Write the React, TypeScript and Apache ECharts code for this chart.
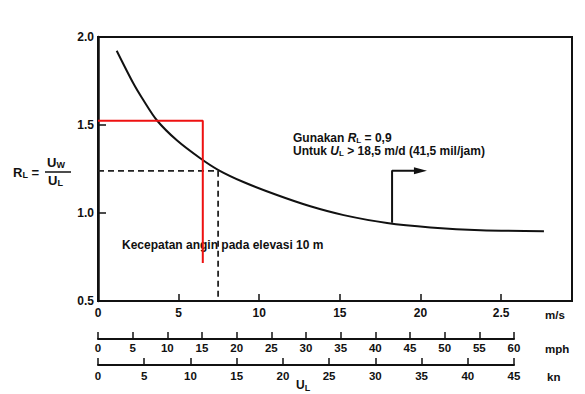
import React, { useEffect, useRef } from "react";
import * as echarts from "echarts";

// Curve R_L = U_W / U_L against wind speed (m/s)
const curveX = [1.16, 2.19, 2.81, 3.65, 4.89, 6.34, 7.47, 9.02, 11.1, 13.17, 15.24, 17.93, 20.62, 23.73, 27.66];
const curveY = [1.922, 1.737, 1.642, 1.527, 1.413, 1.311, 1.244, 1.176, 1.102, 1.038, 0.988, 0.943, 0.918, 0.902, 0.897];

// red guide lines
const redX = [0, 6.5, 6.5];
const redY = [1.524, 1.524, 0.716];

// dashed guide lines
const dashX = [0, 7.45, 7.45];
const dashY = [1.239, 1.239, 0.5];

// arrow from curve
const arrowX = [18.24, 18.24, 20.0];
const arrowY = [0.945, 1.24, 1.24];

// axis ticks
const msTicks = [0, 5, 10, 15, 20, 25];
const msTickLabels = ["0", "5", "10", "15", "20", "2.5"];
const yTicks = [0.5, 1.0, 1.5, 2.0];
const yTickLabels = ["0.5", "1.0", "1.5", "2.0"];
const mphMax = 60;
const knMax = 45;

const FONT = "'Liberation Sans', Arial, Helvetica, sans-serif";

const pairs = (xs: number[], ys: number[]) => xs.map((x, i) => [x, ys[i]]);

export default function App() {
  const ref = useRef<HTMLDivElement>(null);
  useEffect(() => {
    document.body.style.margin = "0";
    if (!ref.current) return;
    const chart = echarts.init(ref.current, null, { renderer: "svg" });
    const lab = { fontFamily: FONT, fontWeight: "bold" as const, fontSize: 11.5, color: "#111" };
    const sub = { fontFamily: FONT, fontWeight: "bold" as const, fontSize: 9, color: "#111", padding: [5, 0, 0, 0] };
    const anSub = { fontFamily: FONT, fontWeight: "bold" as const, fontSize: 8, color: "#111", padding: [4, 0, 0, 0], lineHeight: 13 };
    const anTxt = { fontFamily: FONT, fontWeight: "bold" as const, fontSize: 12, color: "#111", lineHeight: 13 };
    const anIt = { ...anTxt, fontStyle: "italic" as const };
    const arrowPts = pairs(arrowX, arrowY).map((p, i, a) =>
      i === a.length - 1
        ? { value: p, symbol: "triangle", symbolRotate: -90, symbolSize: [7, 13], itemStyle: { color: "#111" } }
        : { value: p, symbol: "none" }
    );
    chart.setOption({
      animation: false,
      backgroundColor: "#fff",
      grid: [
        { left: 98, top: 37, width: 474, height: 264, show: true, borderColor: "#111", borderWidth: 2, backgroundColor: "transparent" },
        { left: 98, top: 338, width: 416, height: 1 },
        { left: 98, top: 364, width: 416, height: 1 },
      ],
      xAxis: [
        {
          gridIndex: 0,
          type: "value",
          min: 0,
          max: 29.4,
          interval: 5,
          splitLine: { show: false },
          axisLine: { lineStyle: { color: "#111", width: 2 } },
          axisTick: { inside: true, length: 7, lineStyle: { color: "#111", width: 1.5 } },
          axisLabel: {
            ...lab,
            fontSize: 12,
            margin: 6,
            showMaxLabel: false,
            formatter: (v: number) => {
              const i = msTicks.indexOf(v);
              return i >= 0 ? msTickLabels[i] : "";
            },
          },
        },
        {
          gridIndex: 1,
          type: "value",
          min: 0,
          max: mphMax,
          interval: 5,
          splitLine: { show: false },
          axisLine: { lineStyle: { color: "#111", width: 2 } },
          axisTick: { inside: true, length: 7, lineStyle: { color: "#111", width: 1.5 } },
          axisLabel: { ...lab, margin: 3 },
        },
        {
          gridIndex: 2,
          type: "value",
          min: 0,
          max: knMax,
          interval: 5,
          splitLine: { show: false },
          axisLine: { lineStyle: { color: "#111", width: 2 } },
          axisTick: { inside: true, length: 7, lineStyle: { color: "#111", width: 1.5 } },
          axisLabel: { ...lab, margin: 5 },
        },
      ],
      yAxis: [
        {
          gridIndex: 0,
          type: "value",
          min: 0.5,
          max: 2.0,
          interval: 0.5,
          splitLine: { show: false },
          axisLine: { lineStyle: { color: "#111", width: 2.5 } },
          axisTick: { inside: true, length: 8, lineStyle: { color: "#111", width: 1.5 } },
          axisLabel: {
            ...lab,
            fontSize: 12,
            margin: 4,
            formatter: (v: number) => {
              const i = yTicks.findIndex((t) => Math.abs(t - v) < 1e-6);
              return i >= 0 ? yTickLabels[i] : "";
            },
          },
        },
        { gridIndex: 1, show: false, min: 0, max: 1 },
        { gridIndex: 2, show: false, min: 0, max: 1 },
      ],
      series: [
        {
          type: "line",
          xAxisIndex: 0,
          yAxisIndex: 0,
          data: pairs(curveX, curveY),
          smooth: 0.3,
          symbol: "none",
          lineStyle: { color: "#111", width: 2 },
        },
        {
          type: "line",
          data: pairs(dashX, dashY),
          symbol: "none",
          lineStyle: { color: "#222", width: 1.8, type: [6, 4] },
        },
        {
          type: "line",
          data: pairs(redX, redY),
          symbol: "none",
          lineStyle: { color: "#ee1111", width: 2 },
        },
        {
          type: "line",
          data: arrowPts,
          lineStyle: { color: "#111", width: 2 },
        },
      ],
      graphic: [
        {
          type: "text",
          left: 293,
          top: 132,
          style: {
            text: "{t|Gunakan }{i|R}{s|L}{t| = 0,9}\n{t|Untuk }{i|U}{s|L}{t| > 18,5 m/d (41,5 mil/jam)}",
            font: `bold 12px ${FONT}`,
            fill: "#111",
            rich: { t: anTxt, i: anIt, s: anSub },
          },
        },
        {
          type: "text",
          left: 122,
          top: 239,
          style: { text: "Kecepatan angin pada elevasi 10 m", font: `bold 12px ${FONT}`, fill: "#111" },
        },
        {
          type: "text",
          left: 13,
          top: 166,
          style: { text: "R{s|L} =", font: `bold 13px ${FONT}`, fill: "#111", rich: { s: sub } },
        },
        {
          type: "text",
          left: 47,
          top: 156,
          style: { text: "U{s|W}", font: `bold 13px ${FONT}`, fill: "#111", rich: { s: sub } },
        },
        {
          type: "line",
          shape: { x1: 45, y1: 172, x2: 71, y2: 172 },
          style: { stroke: "#111", lineWidth: 1.5 },
        },
        {
          type: "text",
          left: 48,
          top: 174,
          style: { text: "U{s|L}", font: `bold 13px ${FONT}`, fill: "#111", rich: { s: sub } },
        },
        { type: "text", left: 545, top: 309, style: { text: "m/s", font: `bold 11.5px ${FONT}`, fill: "#111" } },
        { type: "text", left: 545, top: 343, style: { text: "mph", font: `bold 11.5px ${FONT}`, fill: "#111" } },
        { type: "text", left: 547, top: 371, style: { text: "kn", font: `bold 11.5px ${FONT}`, fill: "#111" } },
        {
          type: "text",
          left: 296,
          top: 379,
          style: { text: "U{s|L}", font: `bold 12px ${FONT}`, fill: "#111", rich: { s: sub } },
        },
      ],
    });
    return () => chart.dispose();
  }, []);
  return <div ref={ref} style={{ width: 585, height: 394 }} />;
}
